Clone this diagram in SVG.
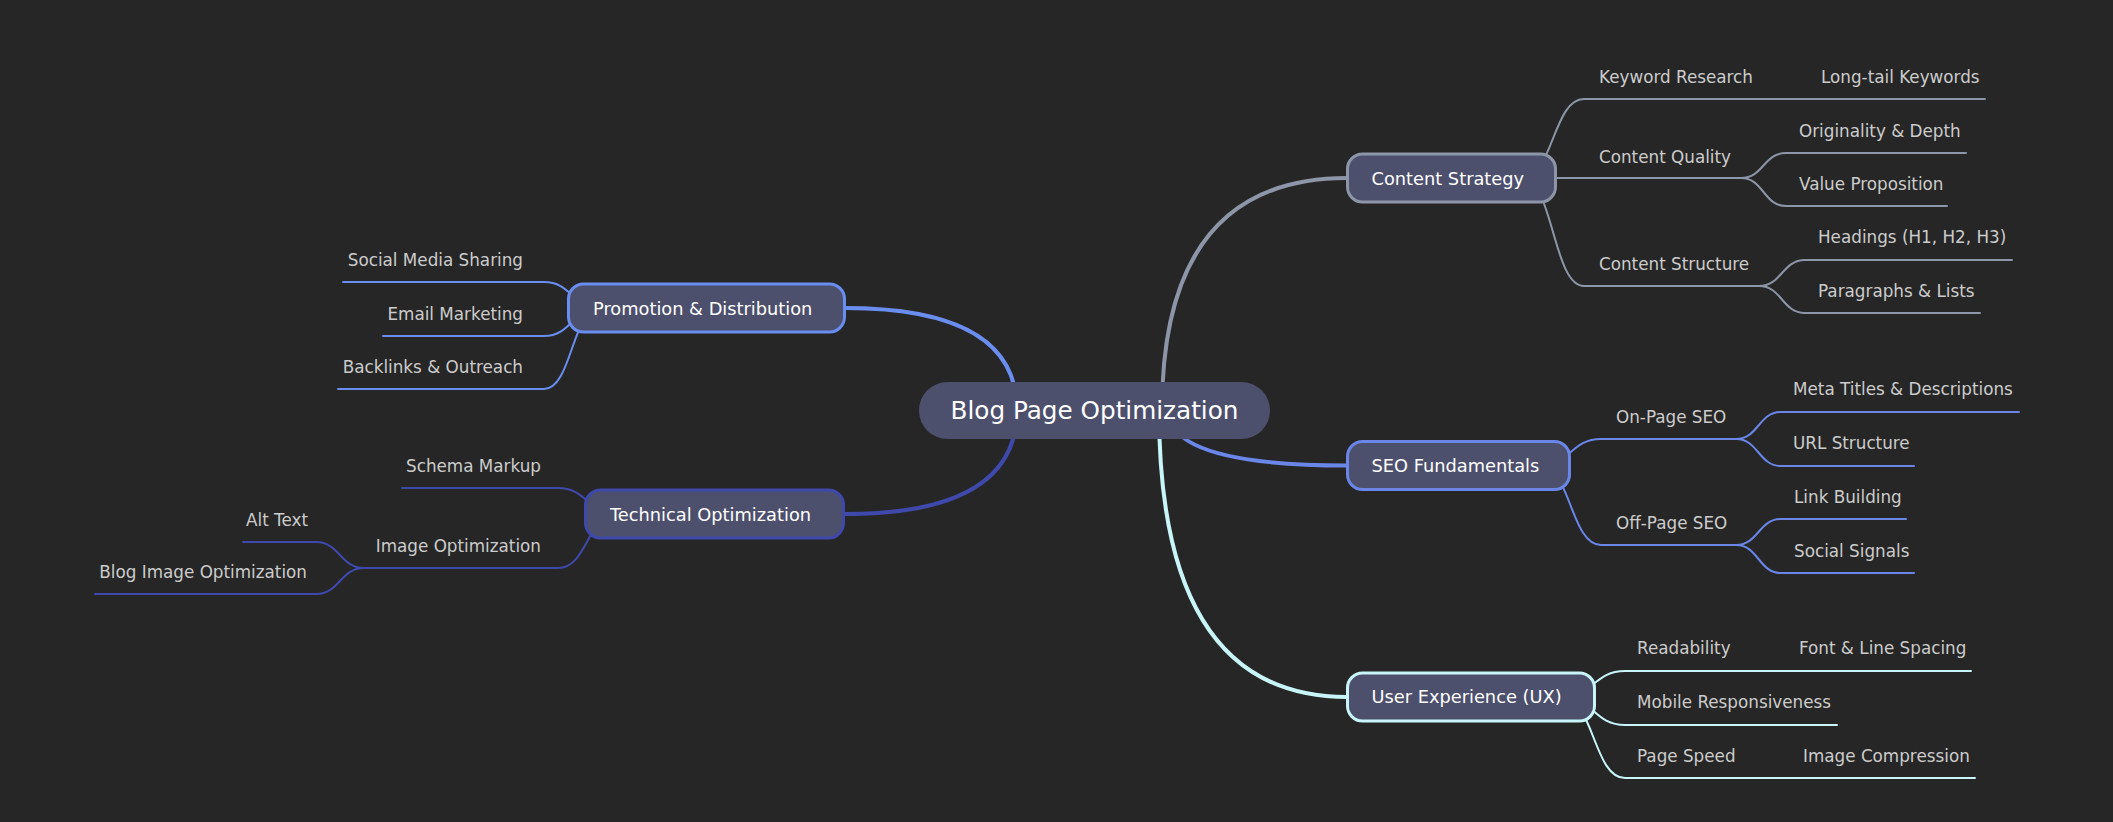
<svg xmlns="http://www.w3.org/2000/svg" width="2113" height="822" viewBox="0 0 2113 822">
<style>
  .bg { fill: #262626; }
  .lk { fill: none; stroke-linecap: round; }
  .l0 { stroke-width: 4; }
  .l1 { stroke-width: 2; }
  .cs { stroke: #8c96a8; }
  .seo { stroke: #6a86e8; }
  .ux { stroke: #c8f5f8; }
  .pr { stroke: #6a8ef0; }
  .te { stroke: #3f48ab; }
  .box { fill: #4d506c; stroke-width: 3; }
  .root { fill: #4d506c; }
  .rt { font-family: "DejaVu Sans", sans-serif; font-size: 24.7px; fill: #ffffff; text-anchor: middle; }
  .nt { font-family: "DejaVu Sans", sans-serif; font-size: 17.8px; fill: #ffffff; }
  .t { font-family: "DejaVu Sans", sans-serif; font-size: 16.8px; fill: #cccccc; }
  .e { text-anchor: end; }
</style>
<rect class="bg" x="0" y="0" width="2113" height="822"/>

<g id="connectors">
  <!-- root to main -->
  <path class="lk l0 cs" d="M1162,410 Q1162,178 1347,178"/>
  <path class="lk l0 seo" d="M1168,410 Q1168,465.5 1347,465.5"/>
  <path class="lk l0 ux" d="M1159,410 Q1159,697 1347,697"/>
  <path class="lk l0 pr" d="M1017,410 Q1017,308 845,308"/>
  <path class="lk l0 te" d="M1017,410 Q1017,514 845,514"/>

  <!-- Content Strategy -->
  <path class="lk l1 cs" d="M1522,178 C1553,178 1553,99 1584,99 M1584,99 H1765 M1765,99 H1985"/>
  <path class="lk l1 cs" d="M1522,178 H1584 M1584,178 H1741"/>
  <path class="lk l1 cs" d="M1741,178 C1763.5,178 1763.5,153 1786,153 M1786,153 H1966"/>
  <path class="lk l1 cs" d="M1741,178 C1763.5,178 1763.5,206 1786,206 M1786,206 H1947"/>
  <path class="lk l1 cs" d="M1522,178 C1553,178 1553,286 1584,286 M1584,286 H1759"/>
  <path class="lk l1 cs" d="M1759,286 C1782,286 1782,260 1805,260 M1805,260 H2012"/>
  <path class="lk l1 cs" d="M1759,286 C1782,286 1782,313 1805,313 M1805,313 H1980"/>

  <!-- SEO Fundamentals -->
  <path class="lk l1 seo" d="M1540,465.5 C1570.5,465.5 1570.5,439 1601,439 M1601,439 H1736"/>
  <path class="lk l1 seo" d="M1736,439 C1758.5,439 1758.5,412 1781,412 M1781,412 H2019"/>
  <path class="lk l1 seo" d="M1736,439 C1758.5,439 1758.5,466 1781,466 M1781,466 H1914"/>
  <path class="lk l1 seo" d="M1540,465.5 C1570.5,465.5 1570.5,545 1601,545 M1601,545 H1736"/>
  <path class="lk l1 seo" d="M1736,545 C1758.5,545 1758.5,519 1781,519 M1781,519 H1906"/>
  <path class="lk l1 seo" d="M1736,545 C1758.5,545 1758.5,573 1781,573 M1781,573 H1914"/>

  <!-- User Experience -->
  <path class="lk l1 ux" d="M1562,697 C1593.5,697 1593.5,671 1625,671 M1625,671 H1741 M1741,671 H1971"/>
  <path class="lk l1 ux" d="M1562,697 C1593.5,697 1593.5,725 1625,725 M1625,725 H1837"/>
  <path class="lk l1 ux" d="M1562,697 C1593.5,697 1593.5,778 1625,778 M1625,778 H1746 M1746,778 H1975"/>

  <!-- Promotion & Distribution -->
  <path class="lk l1 pr" d="M600,308 C572,308 572,282 544,282 M544,282 H343"/>
  <path class="lk l1 pr" d="M600,308 C572,308 572,336 544,336 M544,336 H383"/>
  <path class="lk l1 pr" d="M600,308 C572,308 572,389 544,389 M544,389 H338"/>

  <!-- Technical Optimization -->
  <path class="lk l1 te" d="M617,514 C587.5,514 587.5,488 558,488 M558,488 H402"/>
  <path class="lk l1 te" d="M617,514 C587.5,514 587.5,568 558,568 M558,568 H364"/>
  <path class="lk l1 te" d="M364,568 C340,568 340,542 316,542 M316,542 H243"/>
  <path class="lk l1 te" d="M364,568 C340,568 340,594 316,594 M316,594 H95"/>
</g>

<g id="root">
  <rect class="root" x="919" y="382" width="351" height="57" rx="28.5"/>
  <text class="rt" x="1094.5" y="419">Blog Page Optimization</text>
</g>

<g id="content-strategy">
  <rect class="box cs" x="1347.5" y="154" width="208" height="48" rx="15"/>
  <text class="nt" x="1371.5" y="184.5">Content Strategy</text>
</g>
<g id="keyword-research"><text class="t" x="1599" y="83">Keyword Research</text></g>
<g id="long-tail-keywords"><text class="t" x="1821" y="83">Long-tail Keywords</text></g>
<g id="content-quality"><text class="t" x="1599" y="163">Content Quality</text></g>
<g id="originality-depth"><text class="t" x="1799" y="137">Originality &amp; Depth</text></g>
<g id="value-proposition"><text class="t" x="1799" y="190">Value Proposition</text></g>
<g id="content-structure"><text class="t" x="1599" y="270">Content Structure</text></g>
<g id="headings"><text class="t" x="1818" y="243">Headings (H1, H2, H3)</text></g>
<g id="paragraphs-lists"><text class="t" x="1818" y="297">Paragraphs &amp; Lists</text></g>

<g id="seo-fundamentals">
  <rect class="box seo" x="1347.5" y="441.5" width="222" height="48" rx="15"/>
  <text class="nt" x="1371.5" y="472">SEO Fundamentals</text>
</g>
<g id="on-page-seo"><text class="t" x="1616" y="423">On-Page SEO</text></g>
<g id="meta-titles"><text class="t" x="1793" y="395">Meta Titles &amp; Descriptions</text></g>
<g id="url-structure"><text class="t" x="1793" y="449">URL Structure</text></g>
<g id="off-page-seo"><text class="t" x="1616" y="529">Off-Page SEO</text></g>
<g id="link-building"><text class="t" x="1794" y="503">Link Building</text></g>
<g id="social-signals"><text class="t" x="1794" y="557">Social Signals</text></g>

<g id="user-experience">
  <rect class="box ux" x="1347.5" y="673" width="247" height="48" rx="15"/>
  <text class="nt" x="1371.5" y="703">User Experience (UX)</text>
</g>
<g id="readability"><text class="t" x="1637" y="654">Readability</text></g>
<g id="font-line-spacing"><text class="t" x="1799" y="654">Font &amp; Line Spacing</text></g>
<g id="mobile-responsiveness"><text class="t" x="1637" y="708">Mobile Responsiveness</text></g>
<g id="page-speed"><text class="t" x="1637" y="762">Page Speed</text></g>
<g id="image-compression"><text class="t" x="1803" y="762">Image Compression</text></g>

<g id="promotion-distribution">
  <rect class="box pr" x="568.5" y="284" width="276" height="48" rx="15"/>
  <text class="nt" x="593" y="314.5">Promotion &amp; Distribution</text>
</g>
<g id="social-media-sharing"><text class="t e" x="523" y="266">Social Media Sharing</text></g>
<g id="email-marketing"><text class="t e" x="523" y="320">Email Marketing</text></g>
<g id="backlinks-outreach"><text class="t e" x="523" y="373">Backlinks &amp; Outreach</text></g>

<g id="technical-optimization">
  <rect class="box te" x="585.5" y="490" width="258" height="48" rx="15"/>
  <text class="nt" x="610" y="520.5">Technical Optimization</text>
</g>
<g id="schema-markup"><text class="t e" x="541" y="472">Schema Markup</text></g>
<g id="image-optimization"><text class="t e" x="541" y="552">Image Optimization</text></g>
<g id="alt-text"><text class="t e" x="308" y="526">Alt Text</text></g>
<g id="blog-image-optimization"><text class="t e" x="307" y="578">Blog Image Optimization</text></g>
</svg>
